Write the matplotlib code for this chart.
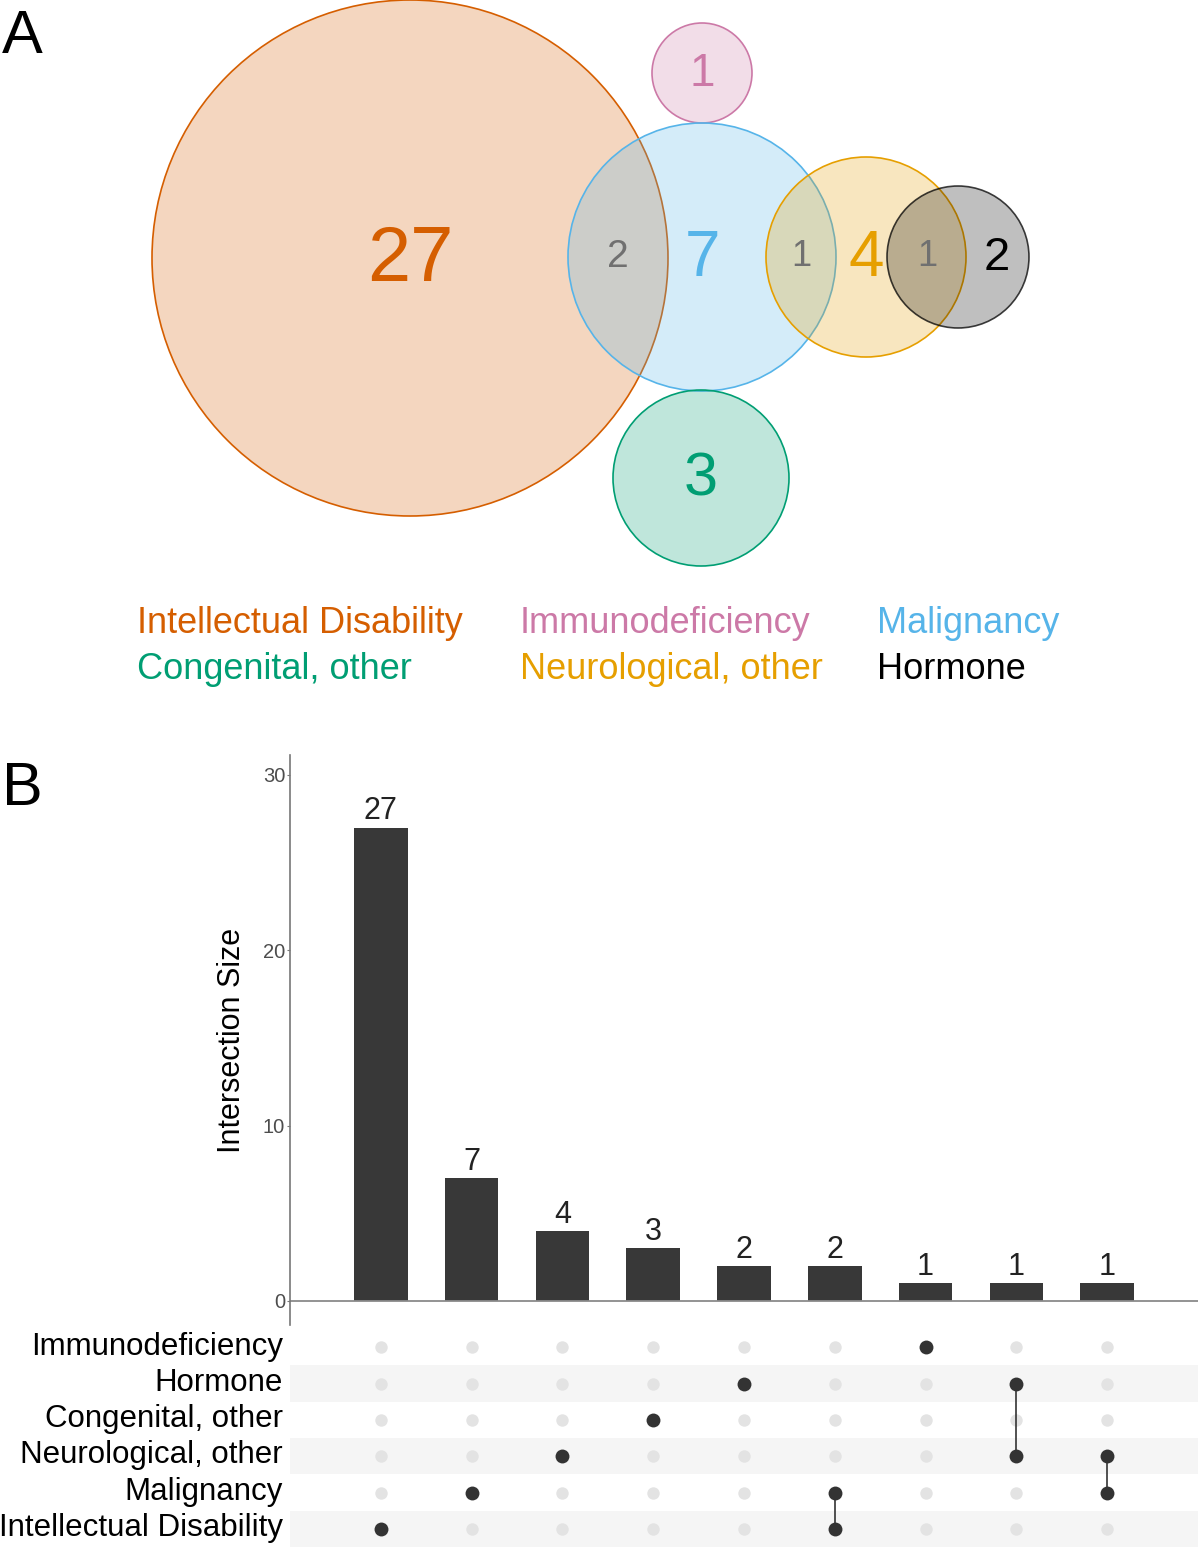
import numpy as np
import matplotlib
matplotlib.use('Agg')
import matplotlib.pyplot as plt
from matplotlib.patches import Circle
from matplotlib.transforms import ScaledTranslation

plt.rcParams['font.family'] = ['Liberation Sans', 'DejaVu Sans']

# 集合名称与颜色
set_names = ['Intellectual Disability', 'Immunodeficiency', 'Malignancy',
             'Congenital, other', 'Neurological, other', 'Hormone']
set_colors = ['#D55E00', '#CC79A7', '#56B4E9', '#009E73', '#E69F00', '#000000']

# 交集 (按柱子顺序) 与数量
intersections = [
    ['Intellectual Disability'],
    ['Malignancy'],
    ['Neurological, other'],
    ['Congenital, other'],
    ['Hormone'],
    ['Intellectual Disability', 'Malignancy'],
    ['Immunodeficiency'],
    ['Hormone', 'Neurological, other'],
    ['Neurological, other', 'Malignancy'],
]
intersection_sizes = [27, 7, 4, 3, 2, 2, 1, 1, 1]

# 矩阵行顺序 (从上到下)
matrix_rows = ['Immunodeficiency', 'Hormone', 'Congenital, other',
               'Neurological, other', 'Malignancy', 'Intellectual Disability']

# 维恩图布局 (像素坐标: 圆心 x, y, 半径)
circle_layout = {
    'Intellectual Disability': (410, 258, 258),
    'Immunodeficiency': (702, 73, 50),
    'Malignancy': (702, 257, 134),
    'Congenital, other': (701, 478, 88),
    'Neurological, other': (866, 257, 100),
    'Hormone': (958, 257, 71),
}
# 区域标签位置: (交集下标, x, y, 字号)
region_labels = [
    (0, 410, 253, 56),
    (1, 702, 253, 46),
    (2, 866, 253, 46),
    (3, 701, 473, 44),
    (4, 997, 253, 34),
    (5, 618, 253, 28),
    (6, 702, 70, 33),
    (7, 927, 253, 26),
    (8, 801, 253, 26),
]

W, H = 1200, 1550
fig = plt.figure(figsize=(W / 100, H / 100), dpi=100)

# ---------- A: 维恩图 ----------
top_h = 730
ax_v = fig.add_axes([0, 1 - top_h / H, 1, top_h / H])
ax_v.set_xlim(0, W)
ax_v.set_ylim(top_h, 0)
ax_v.axis('off')

color_of = dict(zip(set_names, set_colors))
for name in set_names:
    cx, cy, r = circle_layout[name]
    ax_v.add_patch(Circle((cx, cy), r, facecolor=color_of[name], alpha=0.25, lw=0))
    ax_v.add_patch(Circle((cx, cy), r, facecolor='none', edgecolor=color_of[name],
                          lw=1.2, alpha=0.75 if name == 'Hormone' else 1))

for idx, x, y, fs in region_labels:
    members = intersections[idx]
    col = color_of[members[0]] if len(members) == 1 else '#707070'
    ax_v.text(x, y + fs * 0.5, str(intersection_sizes[idx]), color=col,
              fontsize=fs, ha='center', va='baseline')

# 图例文字
legend_pos = {
    'Intellectual Disability': (137, 633),
    'Immunodeficiency': (520, 633),
    'Malignancy': (877, 633),
    'Congenital, other': (137, 679),
    'Neurological, other': (520, 679),
    'Hormone': (877, 679),
}
for name in set_names:
    x, y = legend_pos[name]
    ax_v.text(x, y, name, color=color_of[name], fontsize=26, ha='left', va='baseline')

fig.text(2 / W, 1 - 53 / H, 'A', fontsize=44, ha='left', va='baseline')
fig.text(2 / W, 1 - 805 / H, 'B', fontsize=44, ha='left', va='baseline')

# ---------- B: UpSet 柱状图 ----------
x_pos = np.arange(len(intersection_sizes))
ax_b = fig.add_axes([290 / W, 1 - 1325 / H, 908 / W, 570 / H])
ax_b.bar(x_pos, intersection_sizes, width=0.59, color='#383838')
ax_b.set_xlim(-1, 9)
ax_b.set_ylim(-1.37, 31.14)
ax_b.axhline(0, color='#8a8a8a', lw=1.3)
for s in ['top', 'right', 'bottom']:
    ax_b.spines[s].set_visible(False)
ax_b.spines['left'].set_color('#777777')
ax_b.spines['left'].set_linewidth(1.2)
ax_b.set_xticks([])
ax_b.set_yticks([0, 10, 20, 30])
ax_b.tick_params(axis='y', labelsize=14.5, labelcolor='#4d4d4d', color='#777777',
                 length=2.5, width=0.8, pad=1)
ax_b.set_ylabel('Intersection Size', fontsize=22, labelpad=11)
for xi, v in zip(x_pos, intersection_sizes):
    ax_b.annotate(str(v), (xi, v), xytext=(0, 6), textcoords='offset points',
                  ha='center', va='baseline', fontsize=22, color='#222222')

# ---------- B: 矩阵 ----------
ax_m = fig.add_axes([290 / W, 1 - 1547 / H, 908 / W, 218 / H])
n_rows = len(matrix_rows)
row_y = {name: n_rows - 1 - i for i, name in enumerate(matrix_rows)}
ax_m.set_xlim(-1, 9)
ax_m.set_ylim(-0.5, n_rows - 0.5)
for name, y in row_y.items():
    if y % 2 == 0:
        ax_m.axhspan(y - 0.5, y + 0.5, color='#f5f5f5', lw=0, zorder=0)

for xi, members in zip(x_pos, intersections):
    ys = [row_y[m] for m in members]
    inactive = [row_y[m] for m in matrix_rows if m not in members]
    ax_m.scatter([xi] * len(inactive), inactive, s=80, color='#e3e3e3', lw=0, zorder=2)
    if len(ys) > 1:
        ax_m.plot([xi, xi], [min(ys), max(ys)], color='#333333', lw=1.2, zorder=3)
    ax_m.scatter([xi] * len(ys), ys, s=100, color='#333333', lw=0, zorder=4)

ax_m.set_xticks([])
ax_m.set_yticks([row_y[m] for m in matrix_rows])
ax_m.set_yticklabels(matrix_rows, fontsize=22.5)
ax_m.tick_params(axis='y', length=0, pad=5)
shift = ScaledTranslation(0, 3 / 72, fig.dpi_scale_trans)
for lab in ax_m.get_yticklabels():
    lab.set_transform(lab.get_transform() + shift)
for s in ax_m.spines.values():
    s.set_visible(False)

fig.savefig('out.png', dpi=100)
